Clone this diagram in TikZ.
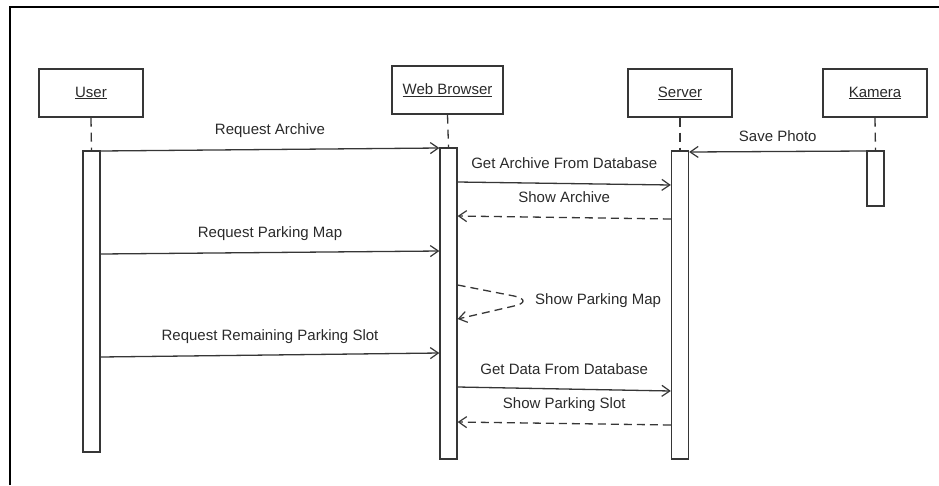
\documentclass[tikz,border=0pt]{standalone}
\usepackage{fontspec}
\setmainfont{Liberation Sans}
\usetikzlibrary{arrows.meta}
\definecolor{ink}{HTML}{363636}
\definecolor{txt}{HTML}{2A2A2A}
\tikzset{
  actor/.style={draw=ink, line width=1.4pt, fill=white, minimum height=48pt, inner sep=0pt, text=txt, font=\fontsize{15}{18}\selectfont},
  bar/.style={draw=ink, line width=1.3pt, fill=white, minimum width=17pt, inner sep=0pt},
  life/.style={draw=ink, line width=1.3pt, dash pattern=on 9pt off 6pt},
  msg/.style={draw=ink, line width=1.3pt, -{Straight Barb[length=8pt,width=11pt,line width=1.2pt]}},
  reply/.style={msg, dash pattern=on 8pt off 5pt},
  lbl/.style={midway, anchor=base, yshift=15pt, inner sep=0pt, text=txt, font=\fontsize{15}{18}\selectfont},
}
\begin{document}
\begin{tikzpicture}[x=1pt, y=-1pt]
\useasboundingbox (0,0) rectangle (939,485);
% outer frame (only the top and left edges fall inside the page)
\draw[black, line width=2.8pt] (10,485) -- (10,7) -- (939,7);

% objects
\node[actor, minimum width=104pt] (user)   at (91,93)    {\underline{User}};
\node[actor, minimum width=111pt] (web)    at (447.5,90) {\underline{Web Browser}};
\node[actor, minimum width=104pt] (server) at (680,93)   {\underline{Server}};
\node[actor, minimum width=104pt] (kamera) at (875,93)   {\underline{Kamera}};

% activation bars
\node[bar, minimum height=301pt] (ubar) at (91.5,301.5) {};
\node[bar, minimum height=311pt] (wbar) at (448.5,303.5) {};
\node[bar, minimum height=308pt] (sbar) at (680,305) {};
\node[bar, minimum height=55pt]  (kbar) at (875.5,178.5) {};

% lifelines
\draw[life] (user.south) -- (ubar.north);
\draw[life] (web.south) -- (wbar.north);
\draw[life] (server.south) -- (sbar.north);
\draw[life] (kamera.south) -- (kbar.north);

% messages
\draw[msg] (ubar.east |- 0,151) -- node[lbl] {Request Archive} (wbar.west |- 0,148);
\draw[msg] (kbar.west |- 0,151) -- node[lbl, yshift=-5pt] {Save Photo} (sbar.east |- 0,152);
\draw[msg] (wbar.east |- 0,182) -- node[lbl] {Get Archive From Database} (sbar.west |- 0,185);
\draw[reply] (sbar.west |- 0,219) -- node[lbl] {Show Archive} (wbar.east |- 0,216);
\draw[msg] (ubar.east |- 0,254) -- node[lbl] {Request Parking Map} (wbar.west |- 0,251);
% self call on the browser
\draw[reply] (wbar.east |- 0,285) -- (514,296) .. controls (526,298.5) and (526,303.5) .. (514,306) -- (wbar.east |- 0,319);
\node[anchor=west, inner sep=0pt, text=txt, font=\fontsize{15}{18}\selectfont] (spm) at (535,301) {Show Parking Map};
\draw[msg] (ubar.east |- 0,357) -- node[lbl] {Request Remaining Parking Slot} (wbar.west |- 0,353);
\draw[msg] (wbar.east |- 0,387) -- node[lbl] {Get Data From Database} (sbar.west |- 0,391);
\draw[reply] (sbar.west |- 0,425) -- node[lbl] {Show Parking Slot} (wbar.east |- 0,422);
\end{tikzpicture}
\end{document}
